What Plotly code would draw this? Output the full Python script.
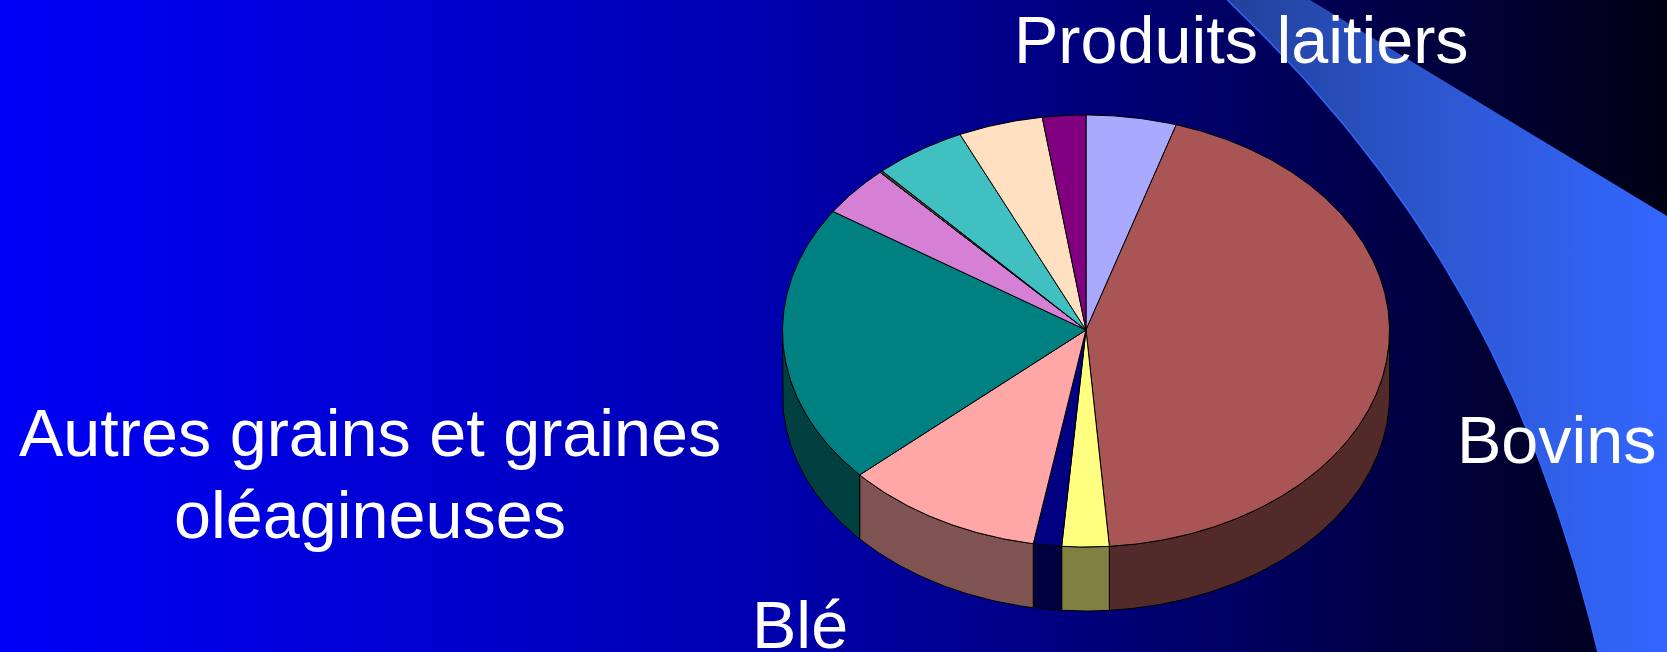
import numpy as np
import plotly.graph_objects as go

# Slices clockwise from 12 o'clock (percent)
slice_labels = ["Produits laitiers", "Bovins", "", "", "Blé",
                "Autres grains et graines oléagineuses", "", "", "", "", ""]
slice_values = [4.8, 43.9, 2.5, 1.5, 10.6, 20.9, 3.8, 0.15, 4.9, 4.5, 2.3]
top_colors = ["#A9A9FF", "#A95555", "#FFFF80", "#000080", "#FFA6A6", "#008080",
              "#D580D5", "#404040", "#40C0C0", "#FFE0C0", "#800080"]
side_colors = ["#545480", "#522A2A", "#808040", "#000040", "#805353", "#004040",
               "#6A406A", "#202020", "#206060", "#807060", "#400040"]

bg_stops = [0.0, 0.456, 0.70, 0.96, 1.0]
bg_colors = ["#0000F8", "#0000B0", "#00006E", "#000020", "#000014"]
swoosh_stops = [0.0, 0.5, 1.0]
swoosh_colors = ["#21419B", "#2D58D2", "#3366FF"]
swoosh_left_x = [1228, 1318, 1403, 1467, 1520, 1567, 1598]
swoosh_left_y = [0, 96, 202, 303, 416, 540, 652]

W, H = 1667, 652
CX, CY, RX, RY, DEPTH, APEX_Y = 1086, 331, 303.5, 216, 64, 330


def arc(t0, t1, dy=0.0):
    n = max(2, int(abs(t1 - t0) * 2) + 2)
    t = np.radians(np.linspace(t0, t1, n))
    return CX + RX * np.sin(t), CY - RY * np.cos(t) + dy


fig = go.Figure()
LINE = dict(color="#000000", width=1)

# background
fig.add_trace(go.Scatter(
    x=[0, W, W, 0, 0], y=[0, 0, H, H, 0], mode="lines", fill="toself",
    line=dict(width=0), hoverinfo="skip", showlegend=False,
    fillgradient=dict(type="horizontal",
                      colorscale=[[s, c] for s, c in zip(bg_stops, bg_colors)])))

# swoosh: smooth curve fitted through the edge points
coef = np.polyfit(swoosh_left_y, swoosh_left_x, 3)
edge_y = np.linspace(0, H, 60)
edge_x = np.polyval(coef, edge_y)
sx = np.r_[edge_x, W, W, 1310, edge_x[0]]
sy = np.r_[edge_y, H, 216, 0, edge_y[0]]
fig.add_trace(go.Scatter(
    x=sx, y=sy, mode="lines", fill="toself", line=dict(width=0),
    hoverinfo="skip", showlegend=False,
    fillgradient=dict(type="horizontal",
                      colorscale=[[s, c] for s, c in zip(swoosh_stops, swoosh_colors)])))
fig.add_trace(go.Scatter(
    x=edge_x, y=edge_y, mode="lines",
    line=dict(color="#3366FF", width=1.5),
    hoverinfo="skip", showlegend=False))

# pie angles
angles = np.concatenate([[0], np.cumsum(slice_values)]) / sum(slice_values) * 360

# side walls (only the front half is visible)
for i in range(len(slice_values)):
    a, b = max(angles[i], 90), min(angles[i + 1], 270)
    if b <= a:
        continue
    x0, y0 = arc(a, b)
    x1, y1 = arc(b, a, DEPTH)
    fig.add_trace(go.Scatter(
        x=np.r_[x0, x1, x0[0]], y=np.r_[y0, y1, y0[0]], mode="lines", fill="toself",
        fillcolor=side_colors[i], line=LINE, hoverinfo="skip", showlegend=False))

# top surface
for i in range(len(slice_values)):
    x0, y0 = arc(angles[i], angles[i + 1])
    fig.add_trace(go.Scatter(
        x=np.r_[CX, x0, CX], y=np.r_[APEX_Y, y0, APEX_Y], mode="lines", fill="toself",
        fillcolor=top_colors[i], line=LINE, name=slice_labels[i],
        hoverinfo="skip", showlegend=False))

FONT = dict(family="Liberation Sans, Arial, sans-serif", size=66.5, color="#FFFFFF")
texts = [("Produits laitiers", 1241, 40), ("Bovins", 1557, 440),
         ("Autres grains et graines", 370, 433), ("oléagineuses", 370, 515), ("Blé", 800, 625)]
for t, x, y in texts:
    fig.add_annotation(x=x, y=y, text=t, showarrow=False, font=FONT,
                       xanchor="center", yanchor="middle")

fig.update_layout(
    width=W, height=H, margin=dict(l=0, r=0, t=0, b=0),
    paper_bgcolor="#000080", plot_bgcolor="#000080", showlegend=False,
    xaxis=dict(range=[0, W], visible=False, fixedrange=True),
    yaxis=dict(range=[H, 0], visible=False, fixedrange=True),
)
fig.write_html("out.html", config=dict(displayModeBar=False),
               post_script="document.body.style.margin='0';document.body.style.overflow='hidden';")
